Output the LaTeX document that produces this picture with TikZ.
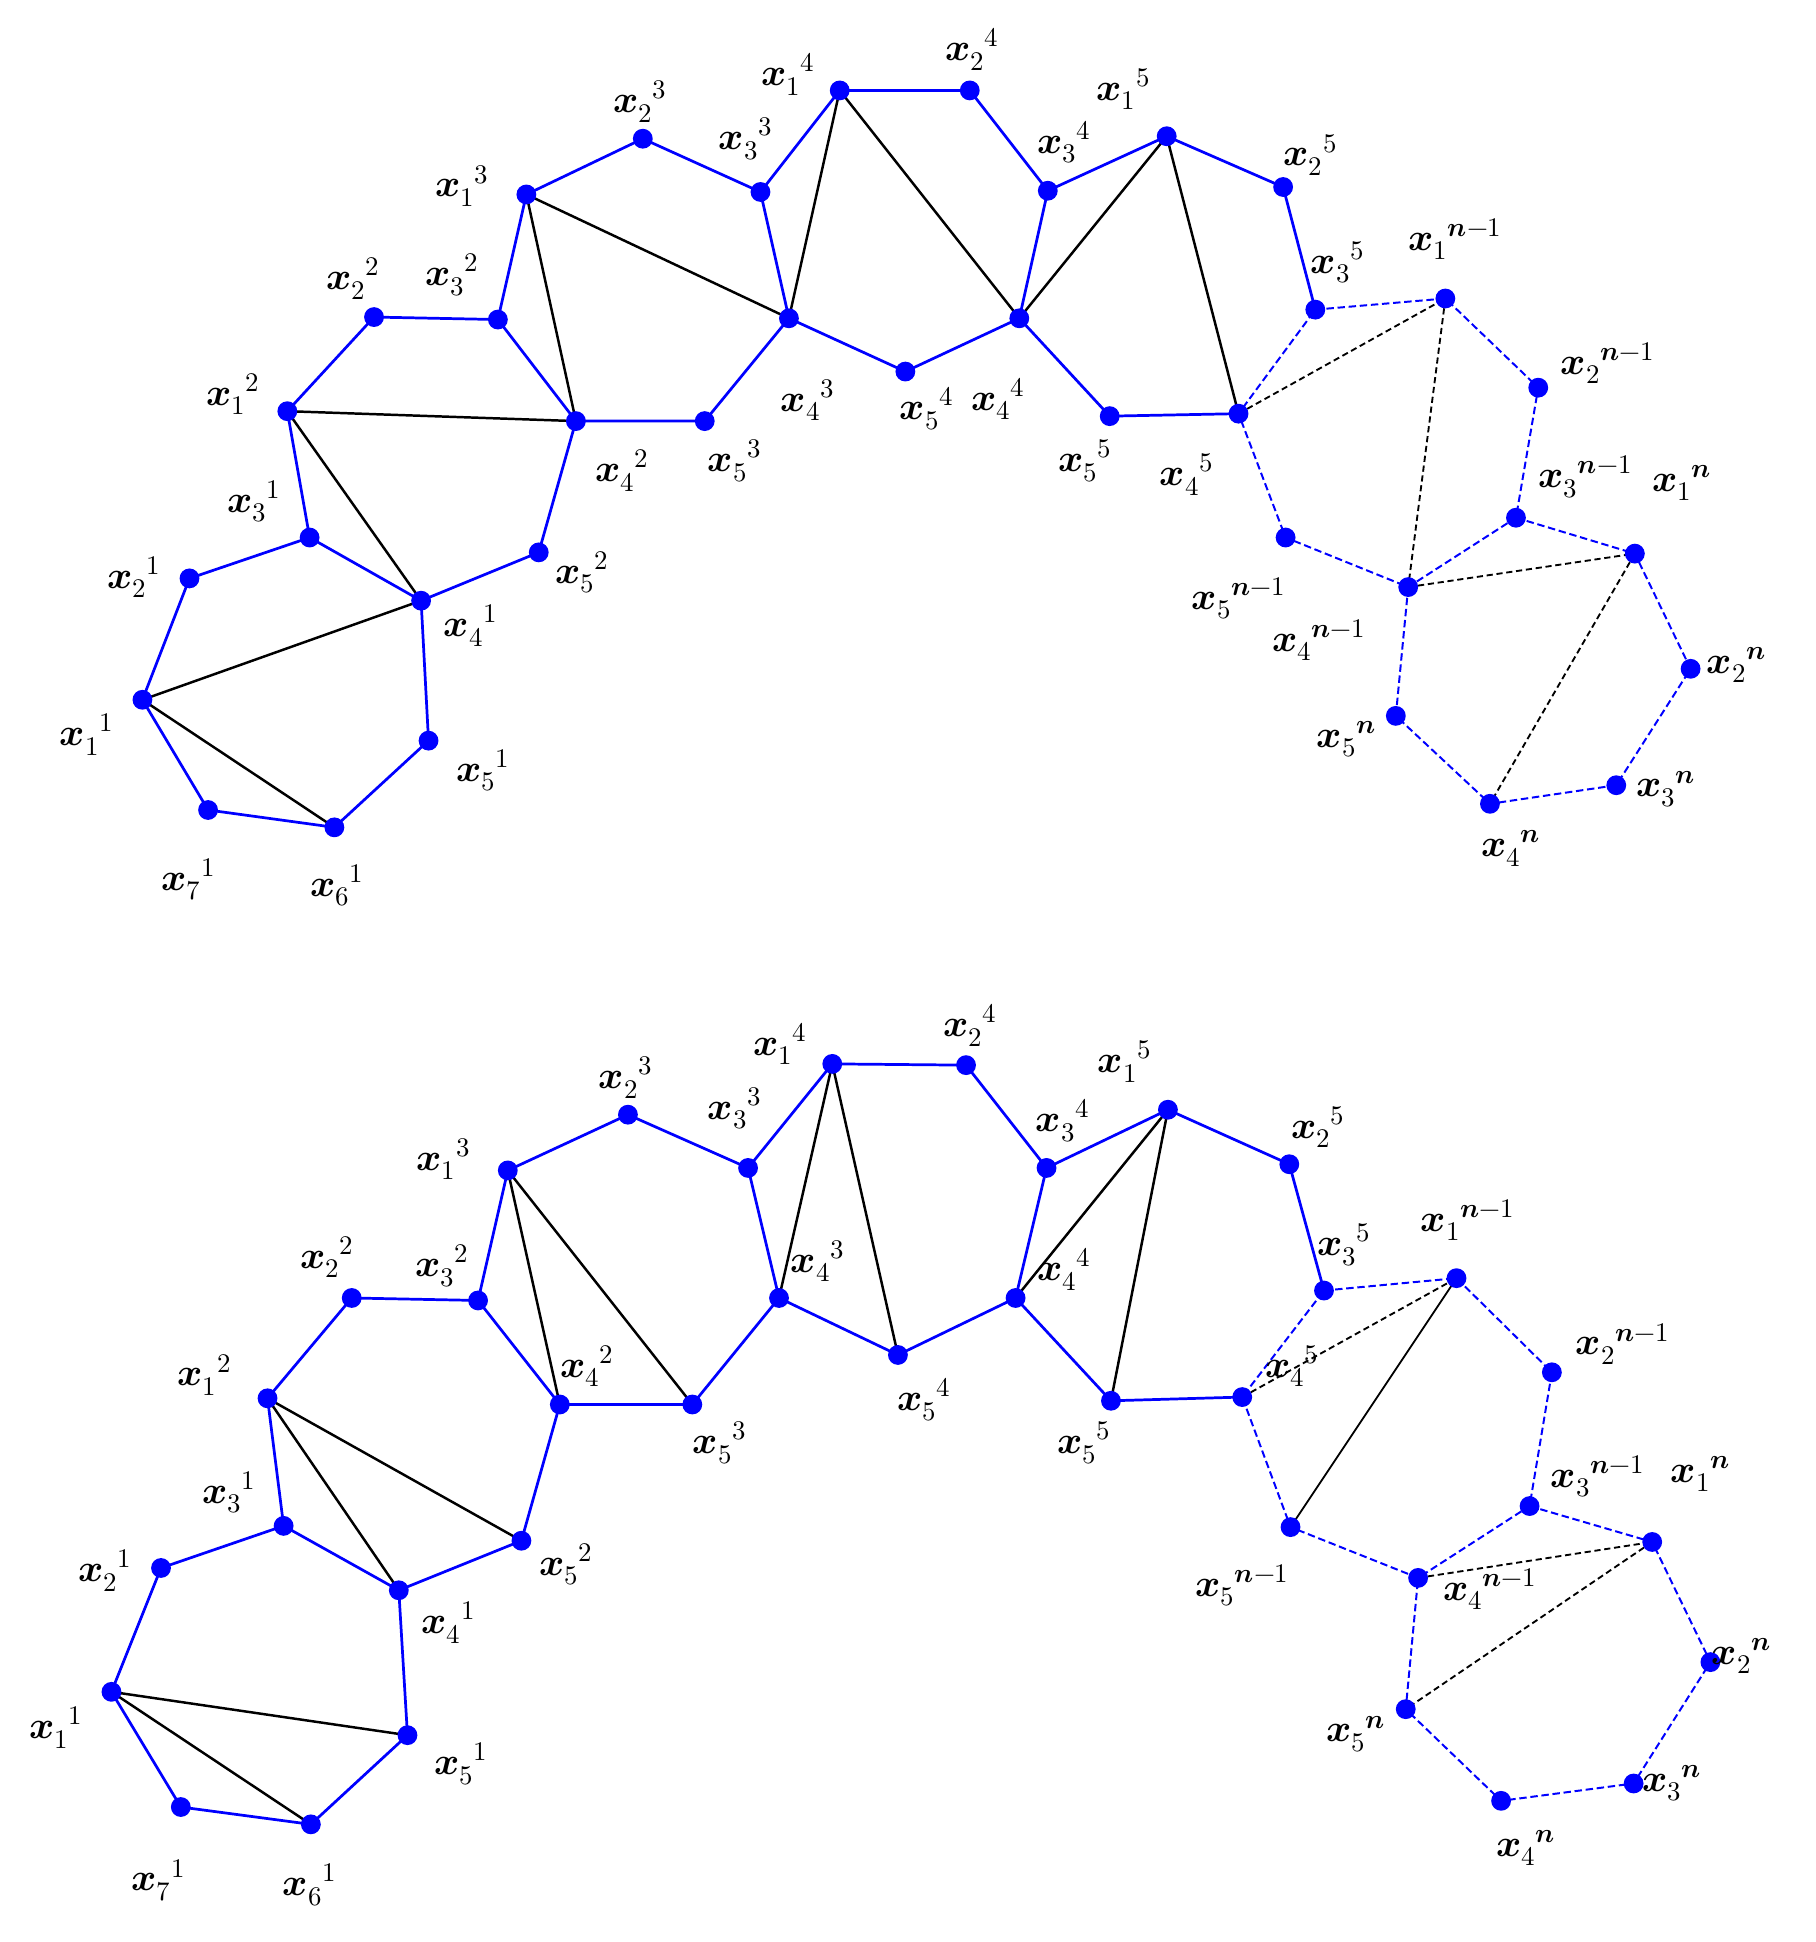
\documentclass[tikz,border=0pt]{standalone}
\usepackage{fontspec}
\setmainfont{Liberation Serif}
\usepackage{unicode-math}
\setmathfont{Latin Modern Math}
\begin{document}
\begin{tikzpicture}[x=1pt,y=-1pt,
  bl/.style={blue,line width=2.2pt},
  bld/.style={blue,line width=1.6pt,dash pattern=on 6pt off 3pt},
  bk/.style={black,line width=2pt},
  bkd/.style={black,line width=1.5pt,dash pattern=on 5pt off 3pt},
  dot/.style={circle,fill=blue,inner sep=0pt,minimum size=16pt},
  lab/.style={font=\fontsize{31}{33}\selectfont,inner sep=0pt}]
\useasboundingbox (0,0) rectangle (1466,1568);
\newcommand\myV[4]{\coordinate (#1) at (#2,#3);}
\newcommand\myL[4]{\node[lab] at (#1,#2) {$\symbfit{x}_{\symbfit{#3}}{}^{\symbfit{#4}}$};}
% ---------- top
\myV{a11}{115}{565}{} \myV{a21}{153}{467}{} \myV{a31}{250}{434}{} \myV{a41}{340}{485}{} \myV{a51}{346}{598}{} \myV{a61}{270}{668}{} \myV{a71}{168}{654}{}
\myV{a12}{232}{332}{} \myV{a22}{302}{256}{} \myV{a32}{402}{258}{} \myV{a42}{465}{340}{} \myV{a52}{435}{446}{}
\myV{a13}{425}{157}{} \myV{a23}{519}{112}{} \myV{a33}{614}{155}{} \myV{a43}{637}{257}{} \myV{a53}{569}{340}{}
\myV{a14}{678}{73}{} \myV{a24}{783}{73}{} \myV{a34}{846}{154}{} \myV{a44}{823}{257}{} \myV{a54}{731}{300}{}
\myV{a15}{942}{110}{} \myV{a25}{1036}{151}{} \myV{a35}{1062}{250}{} \myV{a45}{1000}{334}{} \myV{a55}{896}{336}{}
\myV{a1m}{1167}{241}{} \myV{a2m}{1242}{313}{} \myV{a3m}{1224}{418}{} \myV{a4m}{1137}{474}{} \myV{a5m}{1038}{434}{}
\myV{a1n}{1320}{447}{} \myV{a2n}{1365}{540}{} \myV{a3n}{1305}{634}{} \myV{a4n}{1203}{649}{} \myV{a5n}{1127}{578}{}
% ---------- bottom
\myV{b11}{90}{1366}{} \myV{b21}{130}{1266}{} \myV{b31}{229}{1232}{} \myV{b41}{322}{1284}{} \myV{b51}{329}{1401}{} \myV{b61}{251}{1473}{} \myV{b71}{146}{1459}{}
\myV{b12}{216}{1129}{} \myV{b22}{284}{1048}{} \myV{b32}{386}{1050}{} \myV{b42}{452}{1134}{} \myV{b52}{421}{1244}{}
\myV{b13}{410}{945}{} \myV{b23}{507}{900}{} \myV{b33}{604}{943}{} \myV{b43}{629}{1048}{} \myV{b53}{559}{1134}{}
\myV{b14}{672}{859}{} \myV{b24}{780}{860}{} \myV{b34}{845}{943}{} \myV{b44}{820}{1048}{} \myV{b54}{725}{1094}{}
\myV{b15}{943}{896}{} \myV{b25}{1041}{940}{} \myV{b35}{1069}{1042}{} \myV{b45}{1003}{1128}{} \myV{b55}{897}{1131}{}
\myV{b1m}{1176}{1032}{} \myV{b2m}{1253}{1108}{} \myV{b3m}{1235}{1216}{} \myV{b4m}{1145}{1274}{} \myV{b5m}{1042}{1233}{}
\myV{b1n}{1334}{1245}{} \myV{b2n}{1381}{1342}{} \myV{b3n}{1319}{1440}{} \myV{b4n}{1212}{1454}{} \myV{b5n}{1135}{1380}{}
\foreach \p in {a,b}{
  \draw[bl] (\p11)--(\p21)--(\p31)--(\p41)--(\p51)--(\p61)--(\p71)--(\p11);
  \draw[bl] (\p31)--(\p12)--(\p22)--(\p32)--(\p42)--(\p52)--(\p41);
  \draw[bl] (\p32)--(\p13)--(\p23)--(\p33)--(\p43)--(\p53)--(\p42);
  \draw[bl] (\p33)--(\p14)--(\p24)--(\p34)--(\p44)--(\p54)--(\p43);
  \draw[bl] (\p34)--(\p15)--(\p25)--(\p35);
  \draw[bl] (\p44)--(\p55)--(\p45);
  \draw[bld] (\p35)--(\p1m)--(\p2m)--(\p3m)--(\p4m)--(\p5m)--(\p45)--(\p35);
  \draw[bld] (\p3m)--(\p1n)--(\p2n)--(\p3n)--(\p4n)--(\p5n)--(\p4m);
  \draw[bk] (\p11)--(\p61);
  \draw[bk] (\p12)--(\p41);
  \draw[bk] (\p13)--(\p42);
  \draw[bk] (\p14)--(\p43);
  \draw[bk] (\p15)--(\p44);
  \draw[bkd] (\p45)--(\p1m);
}
\draw[bk] (a11)--(a41) (a12)--(a42) (a13)--(a43) (a14)--(a44) (a15)--(a45);
\draw[bkd] (a1m)--(a4m) (a4m)--(a1n) (a1n)--(a4n);
\draw[bk] (b11)--(b51) (b12)--(b52) (b13)--(b53) (b14)--(b54) (b15)--(b55);
\draw[bk,line width=1.5pt] (b1m)--(b5m);
\draw[bkd] (b4m)--(b1n) (b1n)--(b5n);
\foreach \p in {a,b}{
  \foreach \i in {1,...,5}{
    \foreach \j in {1,2,3,4,5,m,n}{ \node[dot] at (\p\i\j) {}; }
  }
  \node[dot] at (\p61) {}; \node[dot] at (\p71) {};
}
% labels top
\myL{70}{593}{1}{1} \myL{108}{466}{2}{1} \myL{205}{405}{3}{1} \myL{380}{505}{4}{1} \myL{390}{622}{5}{1} \myL{272}{715}{6}{1} \myL{152}{710}{7}{1}
\myL{188}{318}{1}{2} \myL{285}{225}{2}{2} \myL{365}{222}{3}{2} \myL{502}{380}{4}{2} \myL{470}{462}{5}{2}
\myL{373}{150}{1}{3} \myL{517}{82}{2}{3} \myL{602}{112}{3}{3} \myL{652}{323}{4}{3} \myL{593}{372}{5}{3}
\myL{636}{60}{1}{4} \myL{785}{40}{2}{4} \myL{859}{115}{3}{4} \myL{806}{322}{4}{4} \myL{748}{330}{5}{4}
\myL{907}{72}{1}{5} \myL{1058}{125}{2}{5} \myL{1080}{212}{3}{5} \myL{958}{383}{4}{5} \myL{876}{372}{5}{5}
\myL{1175}{193}{1}{n-1} \myL{1298}{293}{2}{n-1} \myL{1280}{385}{3}{n-1} \myL{1065}{517}{4}{n-1} \myL{1000}{483}{5}{n-1}
\myL{1358}{390}{1}{n} \myL{1402}{537}{2}{n} \myL{1345}{637}{3}{n} \myL{1220}{685}{4}{n} \myL{1087}{597}{5}{n}
% labels bottom
\myL{45}{1395}{1}{1} \myL{85}{1268}{2}{1} \myL{185}{1205}{3}{1} \myL{362}{1310}{4}{1} \myL{372}{1424}{5}{1} \myL{250}{1522}{6}{1} \myL{128}{1518}{7}{1}
\myL{165}{1110}{1}{2} \myL{264}{1015}{2}{2} \myL{357}{1022}{3}{2} \myL{474}{1103}{4}{2} \myL{457}{1263}{5}{2}
\myL{358}{936}{1}{3} \myL{505}{870}{2}{3} \myL{593}{895}{3}{3} \myL{660}{1018}{4}{3} \myL{581}{1165}{5}{3}
\myL{630}{843}{1}{4} \myL{783}{828}{2}{4} \myL{858}{905}{3}{4} \myL{859}{1025}{4}{4} \myL{746}{1130}{5}{4}
\myL{908}{857}{1}{5} \myL{1064}{910}{2}{5} \myL{1085}{1005}{3}{5} \myL{1043}{1103}{4}{5} \myL{875}{1165}{5}{5}
\myL{1185}{985}{1}{n-1} \myL{1310}{1085}{2}{n-1} \myL{1290}{1192}{3}{n-1} \myL{1203}{1283}{4}{n-1} \myL{1003}{1280}{5}{n-1}
\myL{1373}{1190}{1}{n} \myL{1406}{1337}{2}{n} \myL{1350}{1440}{3}{n} \myL{1232}{1492}{4}{n} \myL{1095}{1400}{5}{n}
\end{tikzpicture}
\end{document}
